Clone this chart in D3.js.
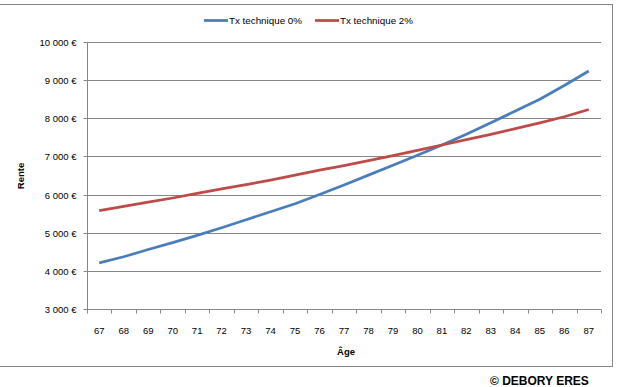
<!DOCTYPE html>
<html>
<head>
<meta charset="utf-8">
<script src="https://cdn.jsdelivr.net/npm/d3@7"></script>
<style>
  html, body { margin: 0; padding: 0; background: #fff; }
  svg { display: block; font-family: "Liberation Sans", Arial, sans-serif; }
</style>
</head>
<body>
<svg id="chart" width="618" height="387"></svg>
<script>
const ages = [67,68,69,70,71,72,73,74,75,76,77,78,79,80,81,82,83,84,85,86,87];
const tx0 = [4210,4370,4560,4740,4930,5130,5340,5550,5760,6000,6250,6510,6770,7030,7300,7580,7880,8190,8500,8860,9240];
const tx2 = [5580,5690,5800,5910,6030,6150,6260,6380,6510,6640,6760,6890,7020,7160,7300,7440,7580,7730,7880,8040,8230];
const yTicks = [3000,4000,5000,6000,7000,8000,9000,10000];
const seriesNames = ["Tx technique 0%", "Tx technique 2%"];
const seriesColors = ["#4a7ebb", "#be4b48"];

const svg = d3.select("#chart");
const pLeft = 87, pRight = 601, pTop = 42, pBottom = 309;
const gridColor = "#868686";

// outer border
svg.append("rect").attr("x", -0.5).attr("y", 4.5).attr("width", 613).attr("height", 362)
  .attr("fill", "none").attr("stroke", gridColor).attr("stroke-width", 1);

const x = d3.scaleBand().domain(ages).range([pLeft, pRight]).padding(0);
const y = d3.scaleLinear().domain([3000, 10000]).range([pBottom, pTop]);

const loc = d3.formatLocale({decimal: ",", thousands: "\u00a0", grouping: [3], currency: ["", "\u00a0€"]});
const fmt = loc.format("$,.0f");

// gridlines
svg.append("g").selectAll("line").data(yTicks.filter(d => d !== 3000)).join("line")
  .attr("x1", pLeft).attr("x2", pRight)
  .attr("y1", d => Math.round(y(d)) + 0.5).attr("y2", d => Math.round(y(d)) + 0.5)
  .attr("stroke", gridColor).attr("stroke-width", 1);

// y axis
const yAxis = svg.append("g").attr("transform", `translate(${pLeft + 0.5},0)`)
  .call(d3.axisLeft(y).tickValues(yTicks).tickFormat(fmt).tickSize(4).tickPadding(7));
yAxis.select(".domain").attr("stroke", gridColor).attr("d", `M0,${pTop}V${pBottom + 0.5}`);
yAxis.selectAll(".tick line").attr("stroke", gridColor);
yAxis.selectAll(".tick").attr("transform", d => `translate(0,${Math.round(y(d)) + 0.5})`);
yAxis.selectAll("text").attr("font-size", 9.5).attr("fill", "#000")
  .attr("font-family", "Liberation Sans, Arial, sans-serif");

// x axis
const xAxis = svg.append("g").attr("transform", `translate(0,${pBottom + 0.5})`);
xAxis.append("line").attr("x1", pLeft).attr("x2", pRight).attr("y1", 0).attr("y2", 0).attr("stroke", gridColor);
const bounds = ages.map(a => x(a)).concat([pRight]);
xAxis.selectAll("line.tk").data(bounds).join("line").attr("class", "tk")
  .attr("x1", d => Math.round(d) + 0.5).attr("x2", d => Math.round(d) + 0.5)
  .attr("y1", 0).attr("y2", 4).attr("stroke", gridColor);
xAxis.selectAll("text").data(ages).join("text")
  .attr("x", d => x(d) + x.bandwidth() / 2).attr("y", 24)
  .attr("text-anchor", "middle").attr("font-size", 9.5).attr("fill", "#000")
  .text(d => d);

// lines
const seriesData = [tx0, tx2];
const line = d3.line().x((d, i) => x(ages[i]) + x.bandwidth() / 2).y(d => y(d));
seriesData.forEach((s, k) => {
  svg.append("path").datum(s).attr("d", line)
    .attr("fill", "none").attr("stroke", seriesColors[k]).attr("stroke-width", 2.75)
    .attr("stroke-linejoin", "round").attr("stroke-linecap", "butt");
});

// axis titles
svg.append("text").attr("transform", "translate(24,176) rotate(-90)")
  .attr("text-anchor", "middle").attr("font-size", 9.5).attr("font-weight", "bold").text("Rente");
svg.append("text").attr("x", 346).attr("y", 355)
  .attr("text-anchor", "middle").attr("font-size", 9.5).attr("font-weight", "bold").text("Âge");

// legend
const legendX = [204, 315];
legendX.forEach((lx, k) => {
  svg.append("line").attr("x1", lx).attr("x2", lx + 24).attr("y1", 20.5).attr("y2", 20.5)
    .attr("stroke", seriesColors[k]).attr("stroke-width", 2.75);
  svg.append("text").attr("x", lx + 25).attr("y", 24).attr("font-size", 9.8).attr("fill", "#000")
    .text(seriesNames[k]);
});

// copyright
svg.append("text").attr("x", 490).attr("y", 385).attr("font-size", 12).attr("font-weight", "bold")
  .attr("fill", "#000").text("© DEBORY ERES");
</script>
</body>
</html>
